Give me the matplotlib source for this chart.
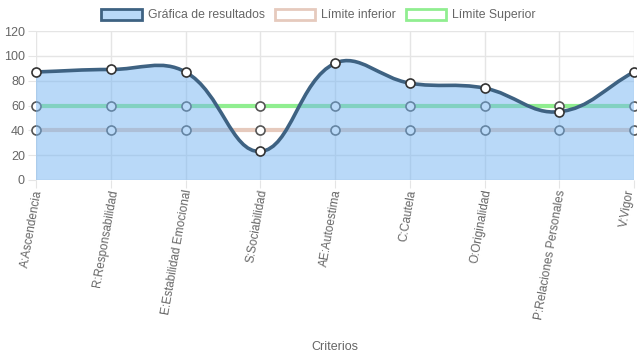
import numpy as np
import matplotlib
matplotlib.use("Agg")
import matplotlib.pyplot as plt
import matplotlib.transforms as mtransforms
from matplotlib.path import Path
from matplotlib.patches import PathPatch, Rectangle

categories = ["A:Ascendencia", "R:Responsabilidad", "E:Estabilidad Emocional",
              "S:Sociabilidad", "AE:Autoestima", "C:Cautela", "O:Originalidad",
              "P:Relaciones Personales", "V:Vigor"]
resultados = [87, 89, 87, 23, 94, 78, 74, 55, 87]
limite_inferior = [40, 40, 40, 40, 40, 40, 40, 40, 40]
limite_superior = [60, 60, 60, 60, 60, 60, 60, 60, 60]
y_ticks = [0, 20, 40, 60, 80, 100, 120]

plt.rcParams['font.family'] = ['Liberation Sans', 'DejaVu Sans']

W, H = 637, 359
fig = plt.figure(figsize=(W / 100, H / 100), dpi=100)
L, R, B, T = 36, 634, 180, 31
ax = fig.add_axes([L / W, 1 - B / H, (R - L) / W, (B - T) / H])
n = len(categories)
xs = np.arange(n)
ax.set_xlim(0, n - 1)
ax.set_ylim(0, 120)

# pixel scales for chart.js-like spline
sx = (R - L) / (n - 1)
sy = (B - T) / 120.0


def spline_path(x, y, tension=0.4):
    px = np.array(x, float) * sx
    py = np.array(y, float) * sy
    m = len(px)
    cps = []
    for i in range(m):
        p0 = (px[max(i - 1, 0)], py[max(i - 1, 0)])
        p1 = (px[i], py[i])
        p2 = (px[min(i + 1, m - 1)], py[min(i + 1, m - 1)])
        d01 = np.hypot(p1[0] - p0[0], p1[1] - p0[1])
        d12 = np.hypot(p2[0] - p1[0], p2[1] - p1[1])
        s01 = d01 / (d01 + d12) if d01 + d12 else 0
        s12 = d12 / (d01 + d12) if d01 + d12 else 0
        fa = tension * s01
        fb = tension * s12
        prev = (p1[0] - fa * (p2[0] - p0[0]), p1[1] - fa * (p2[1] - p0[1]))
        nxt = (p1[0] + fb * (p2[0] - p0[0]), p1[1] + fb * (p2[1] - p0[1]))
        prev = (prev[0], min(max(prev[1], 0), 120 * sy))
        nxt = (nxt[0], min(max(nxt[1], 0), 120 * sy))
        cps.append((prev, nxt))
    verts = [(px[0] / sx, py[0] / sy)]
    codes = [Path.MOVETO]
    for i in range(1, m):
        c1 = cps[i - 1][1]
        c2 = cps[i][0]
        verts += [(c1[0] / sx, c1[1] / sy), (c2[0] / sx, c2[1] / sy), (px[i] / sx, py[i] / sy)]
        codes += [Path.CURVE4] * 3
    return verts, codes


grid_c = "#e5e5e5"
for yv in y_ticks:
    ax.axhline(yv, color=grid_c if yv else "#d0d0d0", lw=1, zorder=0)
for xv in xs:
    ax.axvline(xv, color=grid_c, lw=1, zorder=0)

lower_c = "#e6cabd"
upper_c = "#90ee90"
line_c = "#3e6282"
fill_c = (0.46, 0.71, 0.95, 0.5)

ax.plot(xs, limite_superior, color=upper_c, lw=3, zorder=2, clip_on=False)
ax.plot(xs, limite_inferior, color=lower_c, lw=3, zorder=2, clip_on=False)
ax.plot(xs, limite_superior, ls="none", marker="o", ms=6.5, mfc="white",
        mec="#555555", mew=1.2, zorder=2.5, clip_on=False)
ax.plot(xs, limite_inferior, ls="none", marker="o", ms=6.5, mfc="white",
        mec="#555555", mew=1.2, zorder=2.5, clip_on=False)

verts, codes = spline_path(xs, resultados)
fill_verts = verts + [(xs[-1], 0), (xs[0], 0), verts[0]]
fill_codes = codes + [Path.LINETO, Path.LINETO, Path.CLOSEPOLY]
ax.add_patch(PathPatch(Path(fill_verts, fill_codes), facecolor=fill_c,
                       edgecolor="none", zorder=3))
ax.add_patch(PathPatch(Path(verts, codes), facecolor="none", edgecolor=line_c, lw=2.6,
                       zorder=4, capstyle="round", joinstyle="round"))
ax.plot(xs, resultados, ls="none", marker="o", ms=6.5, mfc="white", mec="#333333",
        mew=1.2, zorder=5, clip_on=False)

for s in ax.spines.values():
    s.set_visible(False)
ax.set_yticks(y_ticks)
ax.set_xticks(xs)
ax.set_xticklabels(categories, rotation=80, ha="right", va="center",
                   rotation_mode="anchor")
ax.tick_params(axis="y", length=6, color=grid_c, labelcolor="#666666", labelsize=9, pad=2)
ax.tick_params(axis="x", length=6, color=grid_c, labelcolor="#666666", labelsize=8.5, pad=1)
labels = ax.get_xticklabels()
for i, lbl in enumerate(labels):
    dx = 3 if i < len(labels) - 1 else -3
    off = mtransforms.ScaledTranslation(dx / 100, 0, fig.dpi_scale_trans)
    lbl.set_transform(lbl.get_transform() + off)
ax.set_xlabel("Criterios", color="#666666", fontsize=9, labelpad=0, va="center")
ax.xaxis.set_label_coords(0.5, -(347 - B) / (B - T))

# legend
handles = [
    Rectangle((0, 0), 1, 1, facecolor=fill_c, edgecolor=line_c, lw=2),
    Rectangle((0, 0), 1, 1, facecolor="white", edgecolor=lower_c, lw=2),
    Rectangle((0, 0), 1, 1, facecolor="white", edgecolor=upper_c, lw=2),
]
fig.legend(handles, ["Gráfica de resultados", "Límite inferior", "Límite Superior"],
           loc="center", bbox_to_anchor=(0.5, 1 - 15 / H), ncol=3, frameon=False,
           fontsize=8.8, labelcolor="#666666", handlelength=3.3, handleheight=1.05,
           columnspacing=0.8, handletextpad=0.5)

fig.savefig("out.png", dpi=100)
